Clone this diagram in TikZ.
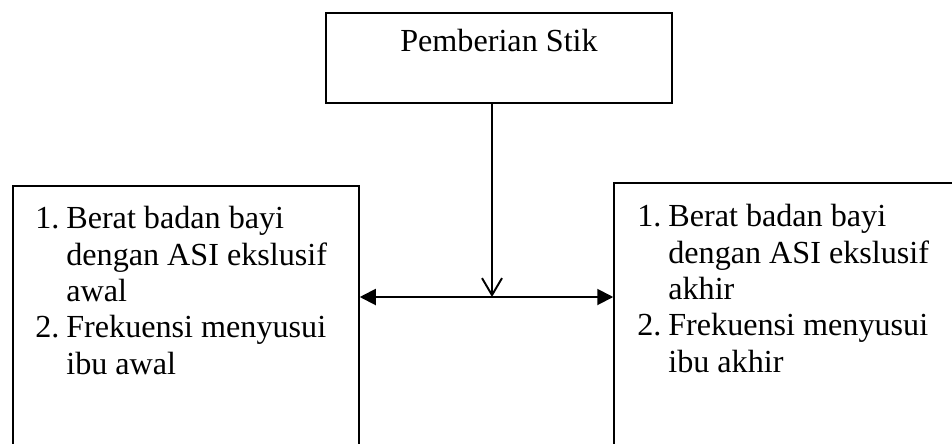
\documentclass[tikz,border=0pt]{standalone}
\usepackage{fontspec}
\setmainfont{Liberation Serif}
\usetikzlibrary{arrows.meta}
\newcommand{\itemlabel}[1]{\makebox[0.62cm][l]{#1}}
\newcommand{\itemgap}{\hspace*{0.62cm}}
\begin{document}
\begin{tikzpicture}[x=0.02cm,y=-0.02cm,
    font=\fontsize{18.3}{20.7}\selectfont]
  \path[use as bounding box,clip] (0,0) rectangle (952,443);
  \node[draw,line width=0.9pt,inner sep=0pt,minimum width=6.92cm,
        text height=0.76cm,text depth=1.04cm] (stik) at (499,58) {Pemberian Stik};
  \node[draw,line width=0.9pt,minimum width=6.92cm,minimum height=5.68cm] (awal) at (186,328) {};
  \node[draw,line width=0.9pt,minimum width=6.92cm,minimum height=5.74cm] (akhir) at (787,326.5) {};
  \node[anchor=north west,inner sep=0pt,align=left] (awaltext) at (35,206)
    {\itemlabel{1.}Berat badan bayi\\ \itemgap dengan ASI ekslusif\\ \itemgap awal\\
     \itemlabel{2.}Frekuensi menyusui\\ \itemgap ibu awal};
  \node[anchor=north west,inner sep=0pt,align=left] (akhirtext) at (637,204)
    {\itemlabel{1.}Berat badan bayi\\ \itemgap dengan ASI ekslusif\\ \itemgap akhir\\
     \itemlabel{2.}Frekuensi menyusui\\ \itemgap ibu akhir};
  \coordinate (meet) at (492,297);
  \draw[-{Straight Barb[length=0.34cm,width=0.4cm]},line width=1.1pt] (stik.south -| meet) -- (meet);
  \draw[{Triangle[length=0.32cm,width=0.32cm]}-{Triangle[length=0.32cm,width=0.32cm]},line width=1.1pt]
    (meet -| awal.east) -- (meet -| akhir.west);
\end{tikzpicture}
\end{document}
